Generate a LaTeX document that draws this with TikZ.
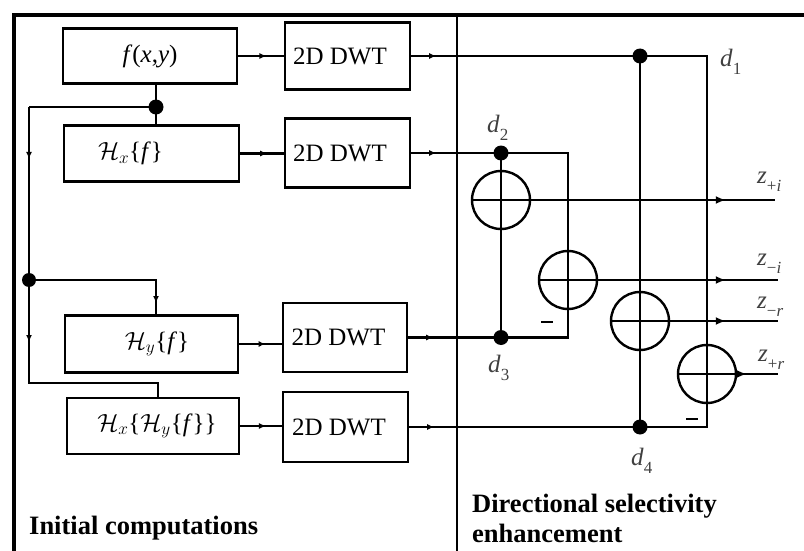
\documentclass[tikz,border=0pt]{standalone}
\usepackage{fontspec}
\setmainfont{Liberation Serif}
\usetikzlibrary{arrows.meta,decorations.markings}
\newcommand{\lsub}[1]{\raisebox{-0.3em}{\fontsize{17}{17}\selectfont #1}}
\begin{document}
\begin{tikzpicture}[x=1pt,y=-1pt,
  box/.style={draw,line width=2.4pt,inner sep=0pt,font=\fontsize{25}{28}\selectfont},
  ln/.style={line width=2.2pt},
  dot/.style={circle,fill,inner sep=0pt,minimum size=15pt},
  adder/.style={circle,draw,line width=2.4pt,minimum size=58pt,inner sep=0pt},
  lab/.style={font=\fontsize{25}{28}\selectfont,text=black!75,inner sep=0pt,anchor=west},
  marr/.style={postaction={decorate},decoration={markings,mark=at position #1 with {\arrow{Latex[length=7pt,width=6pt]}}}},
  oarr/.style={postaction={decorate},decoration={markings,mark=at position #1 with {\arrow{Latex[length=10pt,width=8pt]}}}},
  captxt/.style={font=\fontsize{26.5}{30}\selectfont\bfseries,inner sep=0pt}
]
\useasboundingbox (0,0) rectangle (804,551);
% frame and divider
\draw[line width=4pt] (14,551) -- (14,15) -- (804,15);
\draw[line width=2.2pt] (457,15) -- (457,551);

% boxes
\node[box,minimum width=174pt,minimum height=55pt] (fxy) at (150,56) {\textit{f}(\textit{x},\textit{y})};
\node[box,minimum width=125pt,minimum height=67pt] (w1) at (347.5,56) {2D DWT\hspace*{15pt}};
\node[box,minimum width=175pt,minimum height=56pt] (hx) at (151.5,153.5) {$\mathcal{H}_x$\{\textit{f}\}\hspace*{42pt}};
\node[box,minimum width=125pt,minimum height=69pt] (w2) at (347.5,153) {2D DWT\hspace*{15pt}};
\node[box,minimum width=173pt,minimum height=57pt] (hy) at (151.5,344) {\hspace*{11pt}$\mathcal{H}_y$\{\textit{f}\}};
\node[box,minimum width=124pt,minimum height=69pt] (w3) at (345,337.5) {2D DWT\hspace*{13pt}};
\node[box,minimum width=172pt,minimum height=56pt] (hxy) at (153,426) {\hspace*{8pt}$\mathcal{H}_x$\{$\mathcal{H}_y$\{\textit{f}\}\}};
\node[box,minimum width=125pt,minimum height=70pt] (w4) at (345.5,427) {2D DWT\hspace*{13pt}};

% dots, corners, adders
\node[dot] (j1) at (156,107) {};
\node[dot,minimum size=14pt] (j2) at (29,280) {};
\node[dot] (d1) at (640,56) {};
\node[dot] (d2) at (501,153) {};
\node[dot] (d3) at (501,337.5) {};
\node[dot] (d4) at (640,427) {};
\coordinate (c1) at (707,56);
\coordinate (c2) at (568,153);
\coordinate (c3) at (568,337.5);
\coordinate (c4) at (707,427);
\coordinate (b1) at (29,107);
\coordinate (b2) at (29,383);
\coordinate (b3) at (158,383);
\coordinate (b4) at (156,280);
\node[adder] (a1) at (501,200) {};
\node[adder] (a2) at (568,280) {};
\node[adder] (a3) at (640,321) {};
\node[adder] (a4) at (707,374) {};
\coordinate (o1) at (775,200);
\coordinate (o2) at (778,280);
\coordinate (o3) at (778,321);
\coordinate (o4) at (778,374);

% box to DWT connectors
\draw[ln,marr=0.62] (fxy.east) -- (fxy.east -| w1.west);
\draw[ln,marr=0.62] (hx.east) -- (hx.east -| w2.west);
\draw[ln,marr=0.62] (hy.east) -- (hy.east -| w3.west);
\draw[ln,marr=0.62] (hxy.east) -- (hxy.east -| w4.west);

% input distribution
\draw[ln,marr=0.83] (fxy.south -| j1) -- (j1.center) -- (hx.north -| j1);
\draw[ln] (j1.center) -- (b1);
\draw[ln,marr=0.3] (b1) -- (j2.center);
\draw[ln,marr=62pt] (j2.center) -- (b2) -- (b3) -- (hxy.north -| b3);
\draw[ln,marr=150pt] (j2.center) -- (b4) -- (hy.north -| b4);

% DWT outputs
\draw[ln,marr=25pt] (w1.east) -- (d1.center) -- (c1) -- (a4.center);
\draw[ln] (d1.center) -- (d4.center);
\draw[ln,marr=25pt] (w4.east) -- (d4.center) -- (c4) -- (a4.center);
\draw[ln,marr=25pt] (w2.east) -- (d2.center) -- (c2) -- (a2.center);
\draw[ln] (d2.center) -- (d3.center);
\draw[ln,marr=25pt] (w3.east) -- (d3.center) -- (c3) -- (a2.center);

% adder outputs
\draw[ln,oarr=255pt] (a1.west) -- (o1);
\draw[ln,oarr=188pt] (a2.west) -- (o2);
\draw[ln,oarr=116pt] (a3.west) -- (o3);
\draw[ln,oarr=70pt] (a4.west) -- (o4);

% minus signs
\node[inner sep=0pt] (m1) at (547,322) {\rule{12pt}{2.8pt}};
\node[inner sep=0pt] (m2) at (692,419) {\rule{12pt}{2.8pt}};

% labels
\node[lab] (l1) at (720,62) {\textit{d}\lsub{1}};
\node[lab] (l2) at (487,128) {\textit{d}\lsub{2}};
\node[lab] (l3) at (488,368) {\textit{d}\lsub{3}};
\node[lab] (l4) at (631,461) {\textit{d}\lsub{4}};
\node[lab] (z1) at (757,182) {\textit{z}\lsub{+\textit{i}}};
\node[lab] (z2) at (757,264) {\textit{z}\lsub{−\textit{i}}};
\node[lab] (z3) at (757,307) {\textit{z}\lsub{−\textit{r}}};
\node[lab] (z4) at (758,360) {\textit{z}\lsub{+\textit{r}}};

% captions
\node[captxt,anchor=west] (cp1) at (29,528) {Initial computations};
\node[captxt,anchor=north west,align=left] (cp2) at (472,494) {Directional selectivity\\enhancement};
\end{tikzpicture}
\end{document}
